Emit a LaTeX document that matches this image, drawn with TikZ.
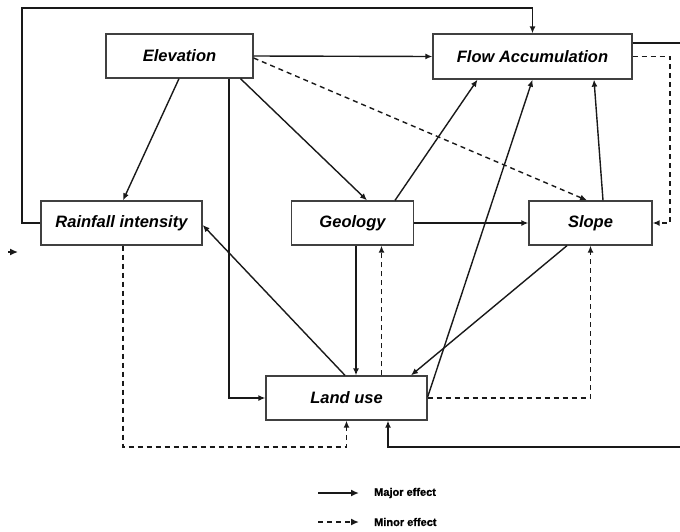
\documentclass[tikz,border=0pt]{standalone}
\usepackage{fontspec}
\setmainfont{Liberation Sans}
\newfontfamily\legfont[FakeBold=1.2]{Liberation Sans}
\usetikzlibrary{arrows.meta}
\begin{document}
\begin{tikzpicture}[x=1pt,y=-1pt,
  box/.style={draw=black!75,line width=1.3pt,fill=white,inner sep=0pt,
    font=\fontsize{16.5}{18}\selectfont\bfseries\itshape},
  major/.style={line width=1.4pt,draw=black!90},
  minor/.style={line width=1.4pt,draw=black!90,dash pattern=on 5pt off 4pt},
  tip/.style={-{Latex[length=7pt,width=6pt]}},
  bigtip/.style={-{Latex[length=8pt,width=7pt]}},
  legtext/.style={anchor=west,inner sep=0pt,font=\legfont\fontsize{11}{13}\selectfont\bfseries}
]
\useasboundingbox (0,0) rectangle (680,531);

\node[box,minimum width=147pt,minimum height=44pt] (elev) at (179.5,56) {Elevation};
\node[box,minimum width=199pt,minimum height=45pt] (flow) at (532.5,56.5) {Flow Accumulation};
\node[box,minimum width=161pt,minimum height=44pt] (rain) at (121.5,223) {Rainfall intensity};
\node[box,minimum width=122pt,minimum height=44pt] (geo) at (352.5,223) {Geology};
\node[box,minimum width=123pt,minimum height=44pt] (slope) at (590.5,223) {Slope};
\node[box,minimum width=161pt,minimum height=44pt] (land) at (346.5,398) {Land use};

\coordinate (tl) at (22,8);
\coordinate (rx) at (670,0);
\coordinate (bl) at (0,447);
\coordinate (eR1) at (680,43);
\coordinate (eR2) at (680,447);
\coordinate (s1) at (8,252);
\coordinate (s2) at (18,252);

% top loop: rainfall -> flow accumulation
\draw[major,tip] (rain.west) -| (tl) -| (flow.north);
% stray arrow at left
\draw[major,bigtip] (s1) -- (s2);
% elevation
\draw[major,tip] (elev.east) -- (flow.west);
\draw[minor,tip] ([yshift=-2pt]elev.east) -- ([xshift=-3.5pt]slope.north);
\draw[major,tip] ([xshift=-0.5pt]elev.south) -- ([xshift=1.5pt]rain.north);
\draw[major,tip] ([xshift=49.5pt]elev.south) |- (land.west);
\draw[major,tip] ([xshift=61pt]elev.south) -- ([xshift=14.5pt]geo.north);
% geology
\draw[major,tip] ([xshift=42.5pt]geo.north) -- ([xshift=-55pt]flow.south);
\draw[major,tip] (geo.east) -- (slope.west);
\draw[major,tip] ([xshift=3.5pt]geo.south) -- ([xshift=9.5pt]land.north);
% land use
\draw[major,tip] ([yshift=1pt]land.east) -- (flow.south);
\draw[major,tip] ([xshift=-1.5pt]land.north) -- ([yshift=-2pt]rain.east);
\draw[minor,tip] ([xshift=35pt]land.north) -- ([xshift=29pt]geo.south);
\draw[minor,tip] (land.east) -| (slope.south);
% slope
\draw[major,tip] ([xshift=12.5pt]slope.north) -- ([xshift=61.5pt]flow.south);
\draw[major,tip] ([xshift=-23.5pt]slope.south) -- ([xshift=64.5pt]land.north);
% flow accumulation
\draw[major] ([yshift=13.5pt]flow.east) -- (eR1);
\draw[major,tip] (eR2) -| ([xshift=41.5pt]land.south);
\draw[minor,tip] (flow.east) -| (rx |- slope.east) -- (slope.east);
% rainfall
\draw[minor,tip] ([xshift=1.5pt]rain.south) |- (bl -| land.south) -- (land.south);

% legend
\coordinate (la1) at (318,493);
\coordinate (la2) at (359,493);
\coordinate (lb1) at (318,522);
\coordinate (lb2) at (359,522);
\draw[major,line width=1.8pt,bigtip] (la1) -- (la2);
\draw[minor,line width=1.8pt,bigtip] (lb1) -- (lb2);
\node[legtext] (lmaj) at (374,493) {Major effect};
\node[legtext] (lmin) at (374,522) {Minor effect};
\end{tikzpicture}
\end{document}
